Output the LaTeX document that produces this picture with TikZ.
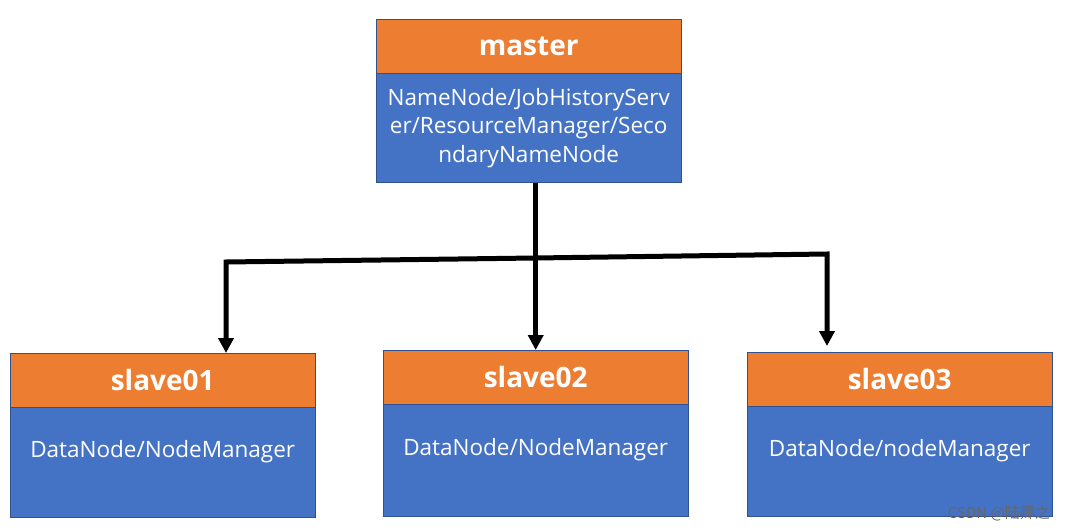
\documentclass[tikz,border=0pt]{standalone}
\usepackage{fontspec}
\setmainfont{Open Sans}
\newfontfamily\cjk{Noto Sans CJK SC}
\usetikzlibrary{positioning,arrows.meta}
\definecolor{hdorange}{HTML}{ED7D31}
\definecolor{bdblue}{HTML}{4472C4}
\definecolor{edgeblue}{HTML}{2F528F}

\tikzset{
  head/.style={draw=edgeblue, fill=hdorange, text=white, anchor=north west,
    font=\fontsize{28}{30}\selectfont\bfseries,
    minimum width=305pt, minimum height=54pt, inner sep=0pt},
  body/.style={draw=edgeblue, fill=bdblue, text=white, below=0pt of #1,
    font=\fontsize{22.5}{28.5}\selectfont,
    minimum width=305pt, minimum height=110pt, inner sep=0pt},
  slavetext/.style={text height=16pt, text depth=27pt},
  link/.style={line width=5pt, -{Triangle[length=15pt,width=15pt]}}
}

\begin{document}
\begin{tikzpicture}[x=1pt,y=-1pt]
  \useasboundingbox[fill=white] (0,0) rectangle (1065,530);

  % master
  \node[head] (master) at (376,19) {master};
  \node[body=master, minimum height=109pt, align=center] (masterbody)
    {NameNode/JobHistoryServ\\er/ResourceManager/Seco\\ndaryNameNode};

  % slaves
  \node[head] (s1) at (10,353) {slave01};
  \node[body=s1, slavetext] (s1body) {DataNode/NodeManager};
  \node[head] (s2) at (383,350) {slave02};
  \node[body=s2, slavetext, minimum height=112pt] (s2body) {DataNode/NodeManager};
  \node[head] (s3) at (747,352) {slave03};
  \node[body=s3, slavetext] (s3body) {DataNode/nodeManager};

  % connectors
  \coordinate (jm) at (535,258);
  \coordinate (jl) at (226,262);
  \coordinate (jr) at (827,254);
  \draw[link] (s2.north |- masterbody.south) -- (s2.north);
  \draw[link] (jm) -- (jl) -- (jl |- s1.north);
  \draw[link, shorten >=6pt] (jm) -- (jr) -- (jr |- s3.north);

  \node[text=black!60, font=\cjk\fontsize{15}{17}\selectfont, anchor=east, inner sep=0pt] (mark) at (1050,513) {CSDN @陆卿之};
\end{tikzpicture}
\end{document}
